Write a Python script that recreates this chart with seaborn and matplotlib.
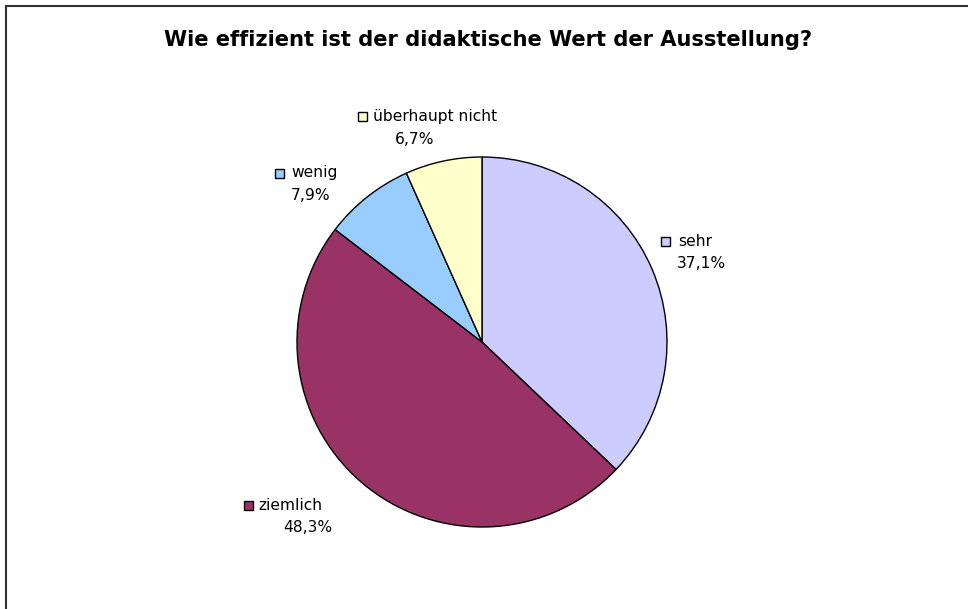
import matplotlib
matplotlib.use("Agg")
import matplotlib.pyplot as plt
from matplotlib.patches import Rectangle
import seaborn as sns

# Data
categories = ["sehr", "ziemlich", "wenig", "überhaupt nicht"]
values = [37.1, 48.3, 7.9, 6.7]
value_labels = ["37,1%", "48,3%", "7,9%", "6,7%"]
colors = ["#CCCCFF", "#993366", "#99CCFF", "#FFFFCC"]
title = "Wie effizient ist der didaktische Wert der Ausstellung?"

sns.set_theme(style="white")
plt.rcParams["font.family"] = ["DejaVu Sans"]

W, H = 968, 609
fig = plt.figure(figsize=(W / 100, H / 100), dpi=100)
ax = fig.add_axes([0, 0, 1, 1])

def py(y):
    return H - y

cx, cy, r = 482, 342, 185
ax.pie(values, colors=colors, startangle=90, counterclock=False,
       center=(cx, py(cy)), radius=r, frame=True,
       wedgeprops=dict(edgecolor="black", linewidth=1.0))
ax.set_xlim(0, W)
ax.set_ylim(0, H)
ax.set_aspect("auto")
ax.set_axis_off()

# border
ax.add_patch(Rectangle((6, py(H + 20)), W + 20, H + 14, fill=False,
                       edgecolor="#333333", linewidth=1.5, clip_on=False))

ax.text(488, py(46), title, ha="center", va="baseline", fontsize=15.1,
        fontweight="bold", color="black")

# label positions: (square x, text x, name y, pct center x, pct y)
label_pos = {
    "sehr": (661, 678, 241, 701, 263),
    "ziemlich": (244, 258, 505, 308, 527),
    "wenig": (275, 291, 173, 311, 195),
    "überhaupt nicht": (358, 373, 116, 415, 139),
}
fs = 11.2
for cat, lab, col in zip(categories, value_labels, colors):
    sx, tx, ny, pxc, pyy = label_pos[cat]
    ax.add_patch(Rectangle((sx, py(ny) - 4.5), 9, 9, facecolor=col,
                           edgecolor="black", linewidth=1.0))
    ax.text(tx, py(ny), cat, ha="left", va="center", fontsize=fs, color="black")
    ax.text(pxc, py(pyy), lab, ha="center", va="center", fontsize=fs, color="black")

fig.savefig("out.png", dpi=100)
